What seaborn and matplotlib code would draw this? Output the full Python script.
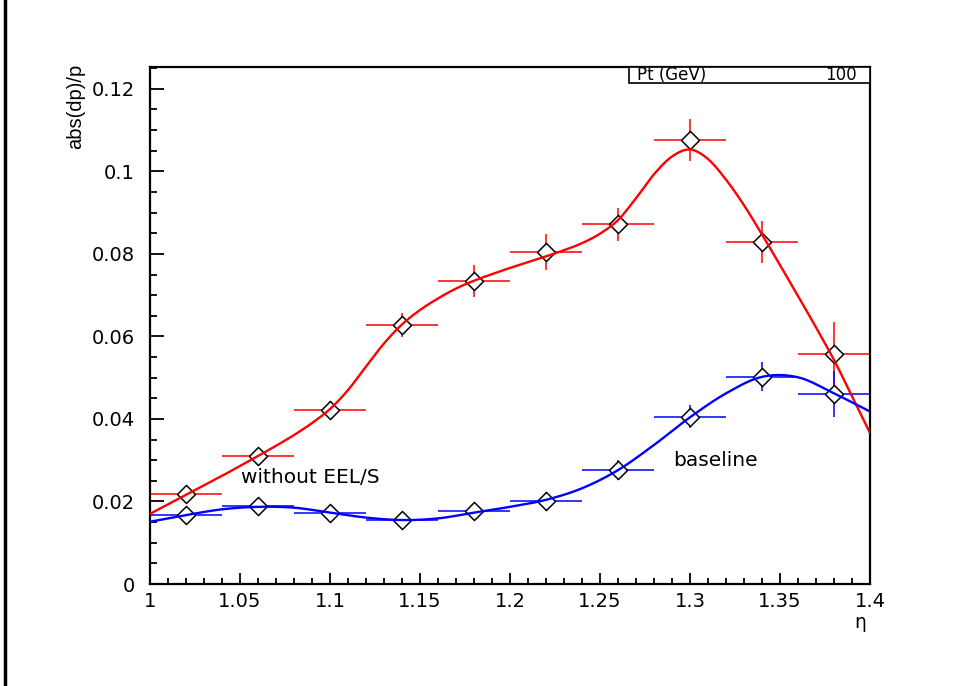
import numpy as np
import pandas as pd
import matplotlib
matplotlib.use("Agg")
import matplotlib.pyplot as plt
from matplotlib.lines import Line2D
from matplotlib.patches import Rectangle
import seaborn as sns

# Measured resolution per eta bin
eta = [1.02, 1.06, 1.10, 1.14, 1.18, 1.22, 1.26, 1.30, 1.34, 1.38]
eta_halfwidth = 0.02

res_without = [0.0218, 0.0310, 0.0421, 0.0627, 0.0735, 0.0804, 0.0872, 0.1076, 0.0829, 0.0557]
err_without = [0.0013, 0.0015, 0.0022, 0.0029, 0.0039, 0.0044, 0.0040, 0.0052, 0.0051, 0.0079]

res_baseline = [0.0167, 0.0189, 0.0171, 0.0155, 0.0177, 0.0200, 0.0276, 0.0405, 0.0502, 0.0460]
err_baseline = [0.0010, 0.0012, 0.0012, 0.0013, 0.0018, 0.0024, 0.0024, 0.0028, 0.0035, 0.0056]

# Fitted curves, sampled every 0.01 (without EEL/S) and 0.02 (baseline) in eta
fit_without_x = [1.00, 1.01, 1.02, 1.03, 1.04, 1.05, 1.06, 1.07, 1.08, 1.09, 1.10,
                 1.11, 1.12, 1.13, 1.14, 1.15, 1.16, 1.17, 1.18, 1.19, 1.20,
                 1.21, 1.22, 1.23, 1.24, 1.25, 1.26, 1.27, 1.28, 1.29, 1.30,
                 1.31, 1.32, 1.33, 1.34, 1.35, 1.36, 1.37, 1.38, 1.39, 1.40]
fit_without_y = [0.0170, 0.0193, 0.0216, 0.0239, 0.0262, 0.0286, 0.0310, 0.0335, 0.0361, 0.0390, 0.0424,
                 0.0470, 0.0527, 0.0583, 0.0629, 0.0664, 0.0692, 0.0716, 0.0735, 0.0751, 0.0766,
                 0.0780, 0.0794, 0.0809, 0.0826, 0.0849, 0.0882, 0.0935, 0.0993, 0.1036, 0.1053,
                 0.1030, 0.0980, 0.0918, 0.0847, 0.0773, 0.0698, 0.0622, 0.0543, 0.0455, 0.0366]

fit_baseline_x = [1.00, 1.02, 1.04, 1.06, 1.08, 1.10, 1.12, 1.14, 1.16, 1.18, 1.20,
                  1.22, 1.24, 1.26, 1.28, 1.30, 1.32, 1.34, 1.36, 1.38, 1.40]
fit_baseline_y = [0.0151, 0.0167, 0.0181, 0.0187, 0.0185, 0.0173, 0.0161, 0.0155, 0.0159, 0.0173,
                  0.0187, 0.0204, 0.0232, 0.0276, 0.0337, 0.0404, 0.0462, 0.0502, 0.0501,
                  0.0462, 0.0418]

x_ticks = [1.0, 1.05, 1.1, 1.15, 1.2, 1.25, 1.3, 1.35, 1.4]
x_ticklabels = ["1", "1.05", "1.1", "1.15", "1.2", "1.25", "1.3", "1.35", "1.4"]
y_ticks = [0.0, 0.02, 0.04, 0.06, 0.08, 0.1, 0.12]
y_ticklabels = ["0", "0.02", "0.04", "0.06", "0.08", "0.1", "0.12"]


def smooth(xs, ys, n=12):
    """Catmull-Rom densification so the fit curves render smoothly."""
    xs = np.asarray(xs, float)
    ys = np.asarray(ys, float)
    px = np.concatenate([[2 * xs[0] - xs[1]], xs, [2 * xs[-1] - xs[-2]]])
    py = np.concatenate([[2 * ys[0] - ys[1]], ys, [2 * ys[-1] - ys[-2]]])
    out_x, out_y = [], []
    t = np.linspace(0, 1, n, endpoint=False)
    for i in range(1, len(px) - 2):
        p0, p1, p2, p3 = px[i - 1:i + 3]
        q0, q1, q2, q3 = py[i - 1:i + 3]
        for arr, a, b, c, d in ((out_x, p0, p1, p2, p3), (out_y, q0, q1, q2, q3)):
            arr.extend(0.5 * ((2 * b) + (-a + c) * t + (2 * a - 5 * b + 4 * c - d) * t ** 2
                              + (-a + 3 * b - 3 * c + d) * t ** 3))
    out_x.append(xs[-1])
    out_y.append(ys[-1])
    return np.array(out_x), np.array(out_y)


sns.set_style("white")
plt.rcParams["font.family"] = ["Liberation Sans", "DejaVu Sans"]
plt.rcParams["text.color"] = "black"

fig = plt.figure(figsize=(9.55, 6.86), dpi=100)
ax = fig.add_axes([150 / 955, 1 - 584 / 686, 720 / 955, 517 / 686])

# error bars
ax.errorbar(eta, res_without, xerr=eta_halfwidth, yerr=err_without, fmt="none",
            ecolor="#ff0000", elinewidth=1.1, capsize=0, zorder=2)
ax.errorbar(eta, res_baseline, xerr=eta_halfwidth, yerr=err_baseline, fmt="none",
            ecolor="#0000ff", elinewidth=1.1, capsize=0, zorder=2)

# data points
pts = pd.DataFrame({
    "eta": eta * 2,
    "res": res_without + res_baseline,
    "set": ["without EEL/S"] * len(eta) + ["baseline"] * len(eta),
})
sns.scatterplot(data=pts, x="eta", y="res", marker="D", s=85, color="white",
                edgecolor="black", linewidth=1.1, ax=ax, zorder=3, legend=False)

# fit curves
sx, sy = smooth(fit_without_x, fit_without_y)
sns.lineplot(x=sx, y=sy, color="#ff0000", linewidth=1.7, ax=ax, zorder=4, sort=False)
bx, by = smooth(fit_baseline_x, fit_baseline_y)
sns.lineplot(x=bx, y=by, color="#0000ff", linewidth=1.7, ax=ax, zorder=4, sort=False)

ax.set_xlim(1.0, 1.4)
ax.set_ylim(0.0, 0.1253)
ax.set_xticks(x_ticks)
ax.set_xticklabels(x_ticklabels)
ax.set_yticks(y_ticks)
ax.set_yticklabels(y_ticklabels)
ax.set_xticks(np.arange(1.0, 1.4001, 0.01), minor=True)
ax.set_yticks(np.arange(0.0, 0.1251, 0.005), minor=True)
ax.tick_params(axis="both", which="both", direction="in", color="black",
               labelcolor="black", bottom=True, left=True, top=False, right=False,
               labelsize=14)
ax.tick_params(axis="x", which="major", length=8, width=1.3, pad=6)
ax.tick_params(axis="x", which="minor", length=4, width=1.3)
ax.tick_params(axis="y", which="major", length=10, width=1.3, pad=11)
ax.tick_params(axis="y", which="minor", length=5, width=1.3)
for lab in ax.get_xticklabels() + ax.get_yticklabels():
    lab.set_family(["DejaVu Sans"])
for sp in ax.spines.values():
    sp.set_visible(True)
    sp.set_color("black")
    sp.set_linewidth(1.6)
ax.set_xlabel("")
ax.set_ylabel("")

# series labels
ax.text(1.0505, 0.0258, "without EEL/S", fontsize=14.5, family=["DejaVu Sans"],
        ha="left", va="center", color="black")
ax.text(1.2906, 0.0299, "baseline", fontsize=14.5, family=["DejaVu Sans"],
        ha="left", va="center", color="black")

# axis titles
fig.text(76 / 955, 1 - 64 / 686, "abs(dp)/p", rotation=90, fontsize=14.5,
         ha="center", va="top", family=["Liberation Sans"], color="black")
fig.text(860 / 955, 1 - 623 / 686, "η", fontsize=13.5, ha="center", va="center",
         family=["DejaVu Sans"], color="black")

# parameter box
fig.add_artist(Rectangle((629 / 955, 1 - 83 / 686), 241 / 955, 16 / 686,
                         transform=fig.transFigure, facecolor="white",
                         edgecolor="black", linewidth=1.2, zorder=5))
fig.text(637 / 955, 1 - 75 / 686, "Pt (GeV)", fontsize=12, ha="left", va="center",
         family=["DejaVu Sans"], color="black", zorder=6)
fig.text(857 / 955, 1 - 75 / 686, "100", fontsize=12, ha="right", va="center",
         family=["DejaVu Sans"], color="black", zorder=6)

# canvas edge
fig.add_artist(Line2D([5 / 955, 5 / 955], [0, 1], transform=fig.transFigure,
                      color="black", linewidth=2.5))

fig.savefig("out.png", dpi=100, facecolor="white")
